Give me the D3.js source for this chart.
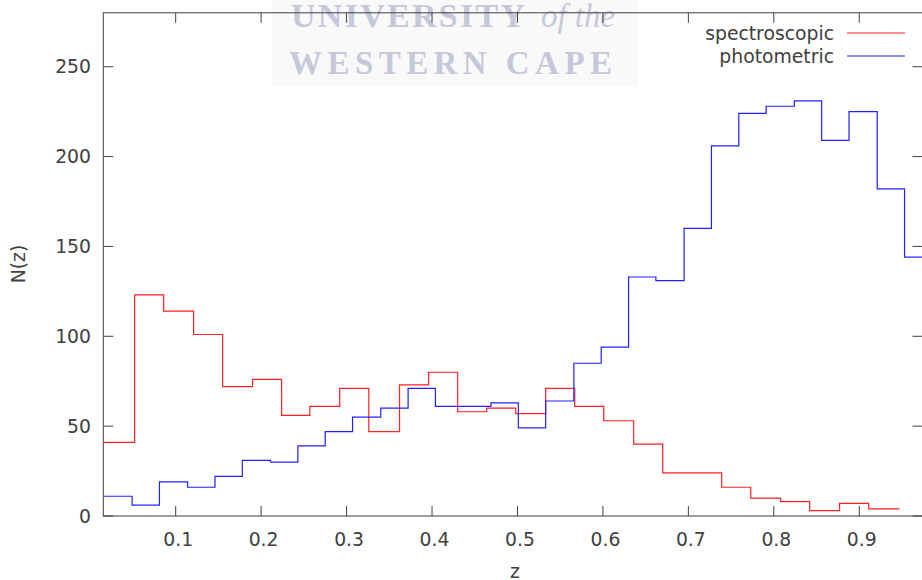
<!DOCTYPE html>
<html>
<head>
<meta charset="utf-8">
<script src="https://cdn.jsdelivr.net/npm/d3@7"></script>
<style>
body { margin: 0; background: #fff; }
</style>
</head>
<body>
<svg width="922" height="580"></svg>
<script>
// bin edges (z) and counts
const specEdges = [0.015, 0.052, 0.086, 0.121, 0.155, 0.190, 0.224, 0.257, 0.292, 0.326,
    0.362, 0.396, 0.430, 0.464, 0.498, 0.533, 0.567, 0.601, 0.636, 0.670,
    0.704, 0.739, 0.773, 0.808, 0.842, 0.877, 0.911, 0.947];
const specCounts = [41, 123, 114, 101, 72, 76, 56, 61, 71, 47, 73, 80, 58, 60, 57, 71,
    61, 53, 40, 24, 24, 16, 10, 8, 3, 7, 4];

const photEdges = [0.015, 0.049, 0.081, 0.114, 0.146, 0.178, 0.211, 0.243, 0.275, 0.307,
    0.340, 0.372, 0.404, 0.436, 0.469, 0.501, 0.533, 0.566, 0.598, 0.630,
    0.662, 0.695, 0.727, 0.759, 0.791, 0.824, 0.856, 0.888, 0.921, 0.953, 0.985];
const photCounts = [11, 6, 19, 16, 22, 31, 30, 39, 47, 55, 60, 71, 61, 61, 63, 49, 64,
    85, 94, 133, 131, 160, 206, 224, 228, 231, 209, 225, 182, 144];

const xTicks = [0.1, 0.2, 0.3, 0.4, 0.5, 0.6, 0.7, 0.8, 0.9];
const yTicks = [0, 50, 100, 150, 200, 250];

const plotLeft = 103.3, plotRight = 922.5, plotTop = 12.8, plotBottom = 516;
const axisColor = "#404040";
const labelFont = "DejaVu Sans, sans-serif";
const labelSize = "18.8px";

const svg = d3.select("svg");
const x = d3.scaleLinear().domain([0.0153, 0.974]).range([plotLeft, plotRight]);
const y = d3.scaleLinear().domain([0, 280]).range([plotBottom, plotTop]);

function label(sel) {
    return sel.style("font-family", labelFont)
        .style("font-size", labelSize)
        .attr("fill", axisColor);
}

function drawWatermark() {
    const g = svg.append("g");
    g.append("rect")
        .attr("x", 272).attr("y", 0)
        .attr("width", 366).attr("height", 86)
        .attr("fill", "#f9f9fa");
    g.append("text")
        .attr("x", 291).attr("y", 27)
        .style("font-family", "Liberation Serif, serif")
        .style("font-weight", "bold")
        .style("font-size", "34px")
        .attr("textLength", 234)
        .attr("lengthAdjust", "spacing")
        .attr("fill", "#c6c8da")
        .text("UNIVERSITY");
    g.append("text")
        .attr("x", 541).attr("y", 27)
        .style("font-family", "Liberation Serif, serif")
        .style("font-style", "italic")
        .style("font-size", "33px")
        .attr("textLength", 74)
        .attr("lengthAdjust", "spacing")
        .attr("fill", "#c6c8da")
        .text("of the");
    g.append("text")
        .attr("x", 289).attr("y", 74)
        .style("font-family", "Liberation Serif, serif")
        .style("font-weight", "bold")
        .style("font-size", "33px")
        .attr("textLength", 323)
        .attr("lengthAdjust", "spacing")
        .attr("fill", "#c6c8da")
        .text("WESTERN CAPE");
}

function drawAxes() {
    const g = svg.append("g");
    g.append("rect")
        .attr("x", plotLeft).attr("y", plotTop)
        .attr("width", plotRight - plotLeft).attr("height", plotBottom - plotTop)
        .attr("fill", "none")
        .attr("stroke", axisColor)
        .attr("stroke-width", 1);

    xTicks.forEach(function(t) {
        g.append("line")
            .attr("x1", x(t)).attr("x2", x(t))
            .attr("y1", plotBottom).attr("y2", plotBottom - 10)
            .attr("stroke", axisColor);
        g.append("line")
            .attr("x1", x(t)).attr("x2", x(t))
            .attr("y1", plotTop).attr("y2", plotTop + 10)
            .attr("stroke", axisColor);
        g.append("text")
            .attr("x", x(t) + 2.5).attr("y", plotBottom + 30)
            .attr("text-anchor", "middle")
            .call(label)
            .text(d3.format(".1f")(t));
    });
    yTicks.forEach(function(t) {
        g.append("line")
            .attr("x1", plotLeft).attr("x2", plotLeft + 10)
            .attr("y1", y(t)).attr("y2", y(t))
            .attr("stroke", axisColor);
        g.append("line")
            .attr("x1", plotRight - 10).attr("x2", plotRight)
            .attr("y1", y(t)).attr("y2", y(t))
            .attr("stroke", axisColor);
        g.append("text")
            .attr("x", 91).attr("y", y(t) + 6.5)
            .attr("text-anchor", "end")
            .call(label)
            .text(t);
    });

    svg.append("text")
        .attr("x", 515).attr("y", 578)
        .attr("text-anchor", "middle")
        .call(label)
        .text("z");
    svg.append("text")
        .attr("transform", "translate(25, 264) rotate(-90)")
        .attr("text-anchor", "middle")
        .call(label)
        .text("N(z)");
}

function stepPath(edges, counts) {
    const pts = [];
    counts.forEach(function(c, i) {
        pts.push([x(edges[i]), y(c)]);
        pts.push([x(edges[i + 1]), y(c)]);
    });
    return d3.line()(pts);
}

function drawSeries() {
    svg.append("clipPath").attr("id", "plot-clip")
        .append("rect")
        .attr("x", plotLeft).attr("y", plotTop)
        .attr("width", plotRight - plotLeft).attr("height", plotBottom - plotTop);
    const g = svg.append("g").attr("clip-path", "url(#plot-clip)");
    g.append("path")
        .attr("d", stepPath(specEdges, specCounts))
        .attr("fill", "none")
        .attr("stroke", "#ff2020")
        .attr("stroke-width", 1.2);
    g.append("path")
        .attr("d", stepPath(photEdges, photCounts))
        .attr("fill", "none")
        .attr("stroke", "#2020ff")
        .attr("stroke-width", 1.2);
}

function drawLegend() {
    const items = [["spectroscopic", "#ff2020", 33], ["photometric", "#2020ff", 56]];
    items.forEach(function(d) {
        svg.append("text")
            .attr("x", 834).attr("y", d[2] + 6.5)
            .attr("text-anchor", "end")
            .call(label)
            .text(d[0]);
        svg.append("line")
            .attr("x1", 847).attr("x2", 905)
            .attr("y1", d[2]).attr("y2", d[2])
            .attr("stroke", d[1])
            .attr("stroke-width", 1.2);
    });
}

drawWatermark();
drawAxes();
drawSeries();
drawLegend();
</script>
</body>
</html>
